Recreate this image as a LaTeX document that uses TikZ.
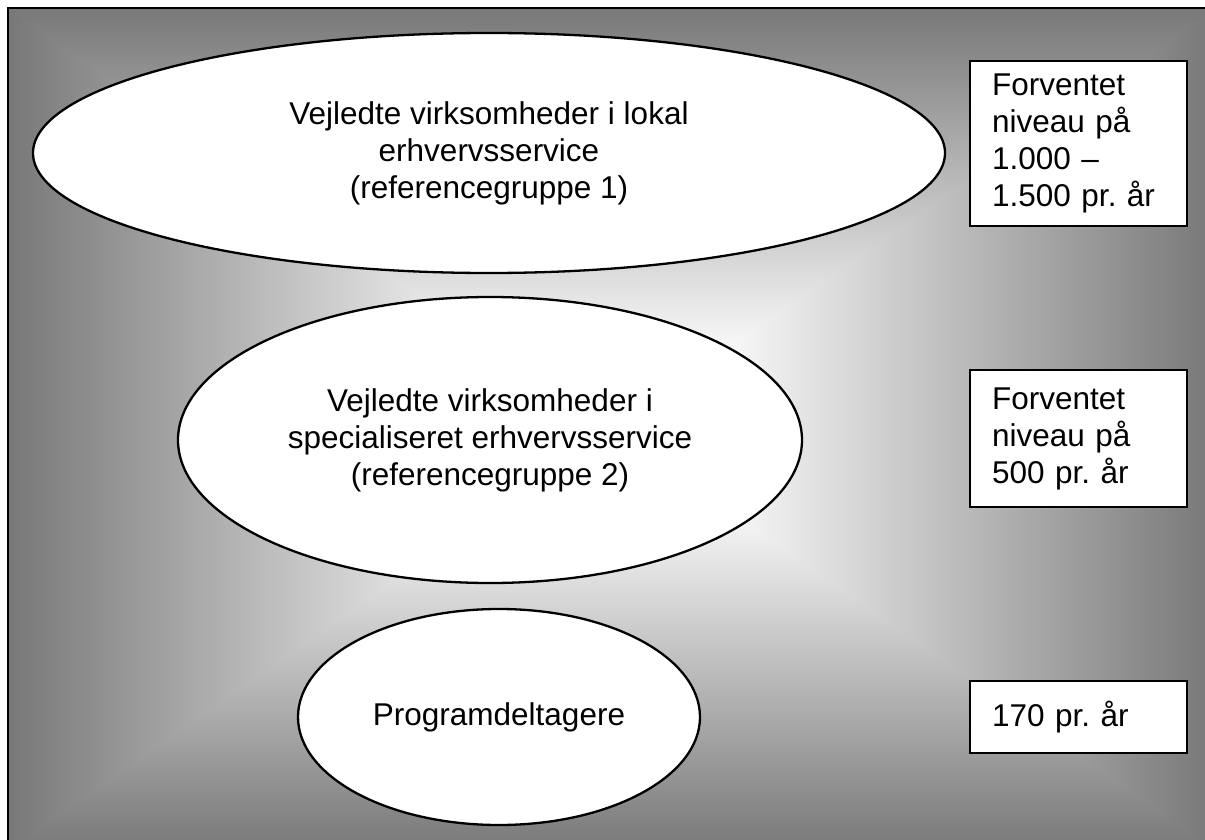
\documentclass[tikz,border=0pt]{standalone}
\usepackage{fontspec}
\setmainfont{Liberation Sans}
\usetikzlibrary{shapes.geometric}
\frenchspacing

% white in the middle, grey towards the frame
\pgfdeclarefunctionalshading{rectfade}{\pgfpoint{-50bp}{-50bp}}{\pgfpoint{50bp}{50bp}}{}{
  abs exch abs 2 copy lt {exch} if pop
  25 div 0.15 sub 0.85 div
  dup 0 lt {pop 0} if dup 1 gt {pop 1} if
  0.53 mul 1 exch sub dup dup
}

\tikzset{
  oval/.style = {ellipse, draw, fill=white, line width=2.3pt, inner sep=0pt, align=center},
  niv/.style  = {rectangle, draw, fill=white, line width=2.3pt, anchor=north west,
                 minimum width=217pt, text width=173pt, inner xsep=22pt, inner ysep=0pt,
                 align=left, execute at begin node=\frenchspacing},
}

\begin{document}
\begin{tikzpicture}[x=1pt, y=-1pt, font=\fontsize{31.5}{37}\selectfont]
    \useasboundingbox (0,0) rectangle (1205,840);

    \shade [shading=rectfade] (8,8) rectangle (1214,850);
    \draw [line width=2.5pt] (8,850) -- (8,8) -- (1214,8);

    \node (ref1) at (489,153) [oval, minimum width=912pt, minimum height=240pt]
        {Vejledte virksomheder i lokal\\ erhvervsservice\\ (referencegruppe 1)};
    \node (ref2) at (490,440) [oval, minimum width=624pt, minimum height=286pt]
        {Vejledte virksomheder i\\ specialiseret erhvervsservice\\ (referencegruppe 2)};
    \node (prog) at (499,717) [oval, minimum width=402pt, minimum height=216pt]
        {Programdeltagere};

    \node (niv1) at (969,60) [niv, minimum height=165pt]
        {Forventet\\ niveau på\\ 1.000 –\\ 1.500 pr. år};
    \node (niv2) at (969,369) [niv, minimum height=137pt]
        {Forventet\\ niveau på\\ 500 pr. år};
    \node (niv3) at (969,680) [niv, minimum height=72pt]
        {170 pr. år};

\end{tikzpicture}
\end{document}
